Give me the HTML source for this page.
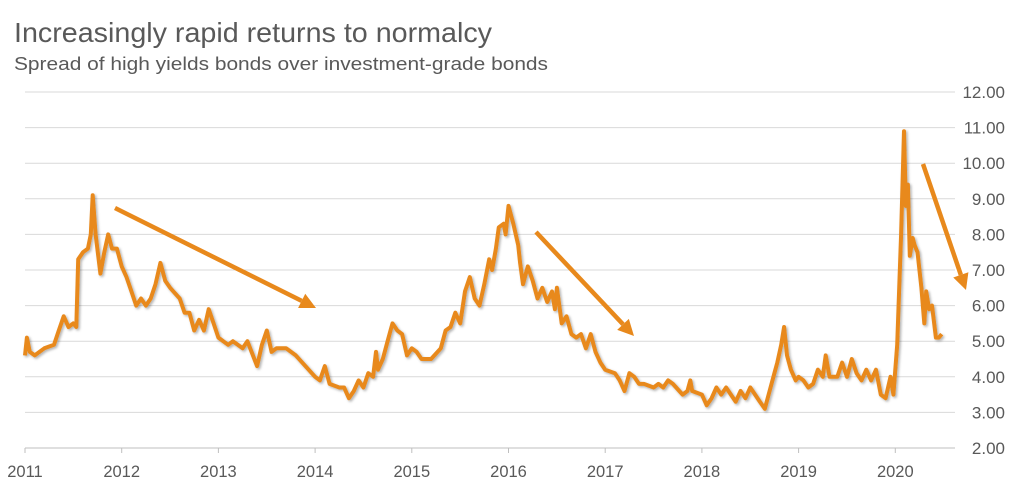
<!DOCTYPE html>
<html><head><meta charset="utf-8"><style>
body{margin:0;background:#fff;}
svg{display:block;font-family:"Liberation Sans",sans-serif;}
</style></head><body>
<svg id="chart" width="1024" height="492">
<defs>
<filter id="sh" x="-5%" y="-5%" width="110%" height="110%"><feDropShadow dx="1.5" dy="1.5" stdDeviation="1.2" flood-color="#000" flood-opacity="0.3"/></filter>
</defs>
<text x="14" y="42" font-size="28" textLength="478" lengthAdjust="spacingAndGlyphs" fill="#595959">Increasingly rapid returns to normalcy</text>
<text x="14" y="70" font-size="18" textLength="534" lengthAdjust="spacingAndGlyphs" fill="#595959">Spread of high yields bonds over investment-grade bonds</text>
<g id="grid"></g><g id="xax"></g><g id="yax"></g>
<path id="line" fill="none" stroke="#e8891c" stroke-width="4" stroke-linejoin="round" filter="url(#sh)"/>
<g id="arrows" fill="#e8891c" stroke="#e8891c"></g>
</svg>
<script>
const yTicks=[2,3,4,5,6,7,8,9,10,11,12];
const xYears=[2011,2012,2013,2014,2015,2016,2017,2018,2019,2020];
const dates=[2011.00,2011.02,2011.05,2011.1,2011.2,2011.3,2011.35,2011.4,2011.45,2011.5,2011.53,2011.55,2011.6,2011.65,2011.68,2011.70,2011.73,2011.78,2011.82,2011.86,2011.9,2011.95,2012.0,2012.05,2012.1,2012.15,2012.2,2012.25,2012.3,2012.35,2012.4,2012.45,2012.5,2012.6,2012.65,2012.7,2012.75,2012.8,2012.85,2012.9,2012.95,2013.0,2013.1,2013.15,2013.25,2013.3,2013.4,2013.45,2013.5,2013.55,2013.6,2013.7,2013.8,2013.9,2014.0,2014.05,2014.1,2014.15,2014.25,2014.3,2014.35,2014.4,2014.45,2014.5,2014.55,2014.6,2014.63,2014.65,2014.7,2014.75,2014.78,2014.8,2014.85,2014.9,2014.95,2015.0,2015.05,2015.1,2015.2,2015.3,2015.35,2015.4,2015.45,2015.5,2015.55,2015.6,2015.65,2015.7,2015.75,2015.8,2015.83,2015.87,2015.9,2015.95,2015.97,2016.0,2016.05,2016.1,2016.12,2016.15,2016.2,2016.25,2016.3,2016.35,2016.4,2016.45,2016.48,2016.5,2016.55,2016.6,2016.65,2016.7,2016.75,2016.8,2016.85,2016.9,2016.95,2017.0,2017.1,2017.15,2017.2,2017.25,2017.3,2017.35,2017.4,2017.5,2017.55,2017.6,2017.65,2017.7,2017.8,2017.85,2017.88,2017.9,2018.0,2018.05,2018.1,2018.15,2018.2,2018.25,2018.3,2018.35,2018.4,2018.45,2018.5,2018.55,2018.6,2018.65,2018.7,2018.75,2018.78,2018.82,2018.85,2018.88,2018.92,2018.97,2019.0,2019.05,2019.1,2019.15,2019.2,2019.25,2019.28,2019.32,2019.4,2019.45,2019.5,2019.55,2019.6,2019.65,2019.7,2019.75,2019.8,2019.85,2019.9,2019.95,2019.98,2020.02,2020.06,2020.09,2020.11,2020.13,2020.15,2020.18,2020.2,2020.23,2020.27,2020.3,2020.32,2020.35,2020.38,2020.42,2020.45,2020.48];
const spread=[4.6,5.1,4.7,4.6,4.8,4.9,5.3,5.7,5.4,5.5,5.4,7.3,7.5,7.6,8.0,9.1,8.0,6.9,7.5,8.0,7.6,7.6,7.1,6.8,6.4,6.0,6.2,6.0,6.2,6.6,7.2,6.7,6.5,6.2,5.8,5.8,5.3,5.6,5.3,5.9,5.5,5.1,4.9,5.0,4.8,5.0,4.3,4.9,5.3,4.7,4.8,4.8,4.6,4.3,4.0,3.9,4.3,3.8,3.7,3.7,3.4,3.6,3.9,3.7,4.1,4.0,4.7,4.2,4.5,5.0,5.3,5.5,5.3,5.2,4.6,4.8,4.7,4.5,4.5,4.8,5.3,5.4,5.8,5.5,6.4,6.8,6.2,6.0,6.6,7.3,7.0,7.6,8.2,8.3,8.0,8.8,8.3,7.7,7.2,6.6,7.1,6.7,6.2,6.5,6.1,6.4,5.9,6.5,5.5,5.7,5.2,5.1,5.2,4.8,5.2,4.7,4.4,4.2,4.1,3.9,3.6,4.1,4.0,3.8,3.8,3.7,3.8,3.7,3.9,3.8,3.5,3.6,3.9,3.6,3.5,3.2,3.4,3.7,3.5,3.7,3.5,3.3,3.6,3.4,3.7,3.5,3.3,3.1,3.6,4.1,4.4,4.9,5.4,4.6,4.2,3.9,4.0,3.9,3.7,3.8,4.2,4.0,4.6,4.0,4.0,4.4,4.0,4.5,4.1,3.9,4.2,3.9,4.2,3.5,3.4,4.0,3.5,4.9,8.0,10.9,8.8,9.4,7.4,7.9,7.7,7.5,6.5,5.5,6.4,5.9,6.0,5.1,5.1,5.2];
const ns='http://www.w3.org/2000/svg';
const X=v=>25+(v-2011)*96.7;
const Y=v=>448-(v-2)*35.6;
function mk(tag,at,parent){const e=document.createElementNS(ns,tag);for(const k in at)e.setAttribute(k,at[k]);parent.appendChild(e);return e;}
const g=document.getElementById('grid'),ya=document.getElementById('yax'),xa=document.getElementById('xax');
yTicks.forEach(t=>{
 const l=mk('line',{x1:25,x2:955,y1:Y(t),y2:Y(t),stroke:t===2?'#bfbfbf':'#d9d9d9','stroke-width':1},g);
 
 
 const tx=mk('text',{x:1005,y:Y(t)+6,'text-anchor':'end','font-size':17,fill:'#595959'},ya);
 tx.textContent=t.toFixed(2);
 
 
});
xYears.forEach(yr=>{
 const tk=mk('line',{x1:X(yr),x2:X(yr),y1:448,y2:453,stroke:'#bfbfbf'},xa);
 
 
 const tx=mk('text',{x:X(yr),y:477,'text-anchor':'middle','font-size':16.5,fill:'#595959'},xa);
 tx.textContent=yr;
 
 
});
document.getElementById('line').setAttribute('d',dates.map((d,i)=>(i?'L':'M')+X(d).toFixed(1)+','+Y(spread[i]).toFixed(1)).join(''));
const ar=document.getElementById('arrows');
[[115,208,316,308],[536,232,634,336],[923,164,966,290]].forEach(a=>{
 const [x1,y1,x2,y2]=a,dx=x2-x1,dy=y2-y1,L=Math.hypot(dx,dy),ux=dx/L,uy=dy/L,h=16,w=8;
 const bx=x2-ux*h,by=y2-uy*h;
 const grp=mk('g',{},ar);
 
 
 mk('line',{x1:x1,y1:y1,x2:bx,y2:by,'stroke-width':4.5},grp);
 mk('polygon',{points:`${x2},${y2} ${bx-uy*w},${by+ux*w} ${bx+uy*w},${by-ux*w}`,stroke:'none'},grp);
});
</script>
</body></html>
